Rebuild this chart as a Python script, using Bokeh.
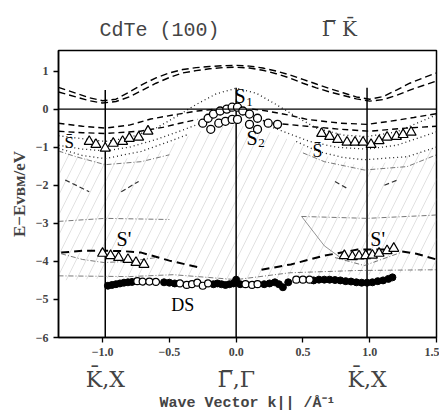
from bokeh.plotting import figure
from bokeh.models import Range1d, FixedTicker, Label, Span, LinearAxis
from bokeh.embed import file_html
from bokeh.resources import INLINE

# ---------------- data ----------------
xa = [-1.33, -1.2, -1.1, -1.0, -0.9, -0.8, -0.7, -0.6, -0.5, -0.4, -0.3, -0.2, -0.1, 0.0,
      0.1, 0.2, 0.3, 0.4, 0.5, 0.6, 0.7, 0.8, 0.9, 1.0, 1.1, 1.2, 1.3, 1.4, 1.5]
ya = [0.57, 0.42, 0.30, 0.22, 0.26, 0.45, 0.65, 0.82, 0.95, 1.04, 1.09, 1.12, 1.14, 1.15,
      1.13, 1.08, 1.00, 0.90, 0.78, 0.66, 0.54, 0.43, 0.32, 0.26, 0.33, 0.50, 0.68, 0.82, 0.95]
yb = [0.45, 0.32, 0.22, 0.16, 0.20, 0.32, 0.50, 0.68, 0.83, 0.95, 1.01, 1.06, 1.09, 1.10,
      1.08, 1.02, 0.93, 0.82, 0.68, 0.56, 0.45, 0.36, 0.27, 0.21, 0.25, 0.36, 0.50, 0.62, 0.74]

xc_l = [-1.33, -1.15, -0.98, -0.8, -0.64, -0.45, -0.29, -0.15]
yc_l = [-0.37, -0.45, -0.50, -0.42, -0.26, -0.14, -0.05, 0.0]
xc_r = [0.12, 0.23, 0.4, 0.53, 0.78, 0.98, 1.15, 1.33, 1.5]
yc_r = [0.0, -0.05, -0.16, -0.27, -0.37, -0.40, -0.32, -0.22, -0.12]
xd_l = [-1.33, -1.15, -0.98, -0.72, -0.55, -0.42, -0.29]
yd_l = [-0.58, -0.62, -0.64, -0.58, -0.48, -0.37, -0.27]
xd_r = [0.2, 0.28, 0.53, 0.78, 1.0, 1.27, 1.5]
yd_r = [-0.30, -0.37, -0.45, -0.53, -0.58, -0.50, -0.45]

xe = [-1.33, -1.1, -0.98, -0.8, -0.6, -0.45, -0.3, -0.15, 0.0, 0.15, 0.3, 0.45, 0.6, 0.8, 0.98, 1.2, 1.5]
ye = [-0.70, -0.80, -0.85, -0.75, -0.50, -0.20, 0.12, 0.40, 0.55, 0.42, 0.12, -0.20, -0.50, -0.68, -0.72, -0.60, -0.15]
xf_l = [-1.33, -1.15, -0.98, -0.8, -0.6, -0.4, -0.25]
yf_l = [-0.95, -1.05, -1.10, -1.00, -0.80, -0.55, -0.35]
xf_r = [0.25, 0.4, 0.55, 0.75, 0.98, 1.2, 1.5]
yf_r = [-0.45, -0.65, -0.85, -1.00, -1.05, -0.95, -0.60]
xg_l = [-1.33, -1.15, -0.98, -0.71, -0.5, -0.35]
yg_l = [-1.03, -1.22, -1.30, -1.11, -0.85, -0.65]
xg_r = [0.45, 0.61, 0.8, 0.96, 1.28, 1.5]
yg_r = [-0.85, -1.11, -1.27, -1.33, -1.25, -1.00]

xh_l = [-1.33, -1.2, -0.98, -0.71, -0.5]
yh_l = [-1.10, -1.25, -1.46, -1.38, -1.20]
xh_r = [0.5, 0.66, 0.96, 1.28, 1.5]
yh_r = [-1.15, -1.38, -1.60, -1.51, -1.20]
xi_l = [-1.33, -0.98, -0.5]
yi_l = [-2.95, -2.87, -2.90]
xi_r = [0.49, 0.98, 1.46, 1.5]
yi_r = [-2.82, -2.87, -2.79, -2.78]
xn = [0.49, 0.66, 0.78]
yn = [-2.82, -3.59, -3.90]
xk_l = [-1.31, -1.15, -0.99, -0.8, -0.6]
yk_l = [-3.80, -3.95, -4.03, -4.00, -3.90]
xk_r = [0.74, 0.96, 1.23]
yk_r = [-3.90, -4.11, -3.77]
xl = [-1.33, -0.8, -0.47, 0.0, 0.4, 0.9, 1.5]
yl = [-4.38, -4.40, -4.35, -4.48, -4.30, -4.24, -4.22]

seg_xs = [[-1.28, -1.10], [-0.86, -0.73], [0.74, 0.84], [1.11, 1.21]]
seg_ys = [[-1.86, -2.17], [-2.17, -1.90], [-1.90, -2.10], [-2.00, -1.86]]

xj_l = [-1.31, -1.15, -0.99, -0.85, -0.71, -0.5, -0.28]
yj_l = [-3.77, -3.72, -3.72, -3.73, -3.77, -3.98, -4.16]
xj_r = [0.19, 0.41, 0.66, 0.91, 1.16, 1.35, 1.5]
yj_r = [-4.22, -4.08, -3.85, -3.69, -3.69, -3.80, -3.95]

hatch_x = [-1.33, -0.98, -0.6, -0.3, 0.0, 0.3, 0.6, 0.98, 1.5, 1.5, 1.0, 0.5, 0.0, -0.5, -0.98, -1.33]
hatch_y = [-1.10, -1.40, -1.15, -0.60, -0.40, -0.65, -1.15, -1.55, -1.00, -4.25, -4.35, -4.40, -4.50, -4.40, -4.45, -4.50]

tri_l_x = [-1.10, -1.05, -0.98, -0.92, -0.85, -0.80, -0.73, -0.66]
tri_l_y = [-0.85, -0.93, -1.03, -0.90, -0.85, -0.77, -0.74, -0.58]
tri_r_x = [0.64, 0.70, 0.76, 0.83, 0.89, 0.95, 1.01, 1.07, 1.13, 1.20, 1.25, 1.31]
tri_r_y = [-0.64, -0.72, -0.80, -0.87, -0.87, -0.87, -0.93, -0.83, -0.74, -0.72, -0.67, -0.61]
tri_sl_x = [-1.00, -0.94, -0.88, -0.81, -0.75, -0.69]
tri_sl_y = [-3.79, -3.85, -3.90, -3.95, -4.03, -4.08]
tri_sr_x = [0.81, 0.87, 0.92, 0.97, 1.02, 1.07, 1.13, 1.18]
tri_sr_y = [-3.85, -3.88, -3.86, -3.85, -3.84, -3.79, -3.72, -3.66]

s1_x = [-0.25, -0.21, -0.17, -0.12, -0.07, -0.03, 0.01, 0.05, 0.10, 0.16, 0.24, 0.31]
s1_y = [-0.37, -0.24, -0.13, -0.05, 0.00, 0.05, 0.05, -0.05, -0.13, -0.24, -0.37, -0.40]
s2_x = [-0.19, -0.13, -0.08, -0.03, 0.01, 0.10, 0.16]
s2_y = [-0.53, -0.37, -0.32, -0.27, -0.27, -0.40, -0.53]

ds_f_x = [-0.96, -0.93, -0.90, -0.87, -0.84, -0.81, -0.78, -0.54, -0.50, -0.46,
          -0.17, -0.14, -0.11, -0.08, -0.05, -0.02, 0.00, 0.03,
          0.21, 0.25, 0.29, 0.32, 0.35, 0.39,
          0.58, 0.62, 0.66, 0.70, 0.74, 0.78, 0.82, 0.86, 0.90, 0.94, 0.98, 1.02, 1.06, 1.10, 1.14, 1.17]
ds_f_y = [-4.64, -4.62, -4.60, -4.58, -4.56, -4.55, -4.54, -4.55, -4.56, -4.58,
          -4.60, -4.58, -4.60, -4.62, -4.60, -4.58, -4.48, -4.60,
          -4.60, -4.58, -4.55, -4.60, -4.68, -4.55,
          -4.50, -4.48, -4.48, -4.48, -4.49, -4.50, -4.52, -4.53, -4.55, -4.56, -4.56, -4.55, -4.52, -4.50, -4.46, -4.42]
ds_o_x = [-0.74, -0.70, -0.65, -0.60, -0.42, -0.37, -0.33, -0.29, -0.25, -0.21, 0.07, 0.12, 0.16, 0.45, 0.50, 0.55]
ds_o_y = [-4.52, -4.53, -4.53, -4.54, -4.58, -4.62, -4.60, -4.56, -4.64, -4.58, -4.60, -4.62, -4.60, -4.48, -4.48, -4.48]

sym_x = [-0.98, 0.0, 0.98]
sym_top = [0.50, 0.56, 0.56]
sym_labels = ["K\u0304,X", "\u0393\u0305,\u0393", "K\u0304,X"]

y_ticks = [-6, -5, -4, -3, -2, -1, 0, 1]
y_tick_labels = ["\u22126", "\u22125", "\u22124", "\u22123", "\u22122", "\u22121", "0", "1"]
x_ticks = [-1.0, -0.5, 0.0, 0.5, 1.0, 1.5]
x_tick_labels = ["\u22121.0", "\u22120.5", "0.0", "0.5", "1.0", "1.5"]

title_x = [-0.574]
title_texts = ["CdTe (100)"]
dir_x = [0.773]
dir_texts = ["\u0393\u0305 K\u0304"]
x_title = "Wave Vector k|| /\u00c5\u207b\u00b9"
y_title = "E\u2212E\u1d20\u0299\u1d0d/eV"

# ---------------- figure ----------------
p = figure(frame_width=378, frame_height=287,
           min_border_left=58, min_border_right=3, min_border_top=50, min_border_bottom=74,
           x_range=Range1d(-1.33, 1.5), y_range=Range1d(-6, 1.54),
           output_backend="svg", toolbar_location=None, tools="")
p.grid.visible = False
p.outline_line_color = "black"
p.outline_line_width = 1.5
p.background_fill_color = "white"
p.border_fill_color = "white"

SERIF = "Liberation Serif"
for ax in (p.xaxis[0], p.yaxis[0]):
    ax.axis_line_width = 1.5
    ax.major_tick_line_width = 1.3
    ax.major_tick_out = 5
    ax.major_tick_in = 0
    ax.minor_tick_line_color = None
    ax.major_label_text_font = SERIF
    ax.major_label_text_font_style = "bold"
    ax.major_label_text_font_size = "12px"
    ax.major_label_standoff = 5
p.yaxis.ticker = FixedTicker(ticks=y_ticks)
p.yaxis.major_label_overrides = dict(zip(y_ticks, y_tick_labels))
p.yaxis.axis_label = y_title
p.yaxis.axis_label_text_font = SERIF
p.yaxis.axis_label_text_font_style = "bold"
p.yaxis.axis_label_text_font_size = "17px"
p.yaxis.axis_label_standoff = 4
p.xaxis.ticker = FixedTicker(ticks=x_ticks)
p.xaxis.major_label_overrides = dict(zip(x_ticks, x_tick_labels))

# symmetry-point axis below and its title
sym_ax = LinearAxis(ticker=FixedTicker(ticks=sym_x),
                    major_label_overrides=dict(zip(sym_x, sym_labels)),
                    axis_line_color=None, major_tick_line_color=None, minor_tick_line_color=None,
                    major_label_text_font="DejaVu Serif", major_label_text_font_size="22px",
                    major_label_standoff=2,
                    axis_label=x_title, axis_label_text_font="Liberation Mono",
                    axis_label_text_font_style="bold", axis_label_text_font_size="15px",
                    axis_label_standoff=0)
p.add_layout(sym_ax, "below")

# heading axes above
top_ax = LinearAxis(ticker=FixedTicker(ticks=title_x),
                    major_label_overrides=dict(zip(title_x, title_texts)),
                    axis_line_color=None, major_tick_line_color=None, minor_tick_line_color=None,
                    major_tick_out=0, major_tick_in=0,
                    major_label_text_font="Liberation Mono", major_label_text_font_size="20px",
                    major_label_standoff=9)
p.add_layout(top_ax, "above")
dir_ax = LinearAxis(ticker=FixedTicker(ticks=dir_x),
                    major_label_overrides=dict(zip(dir_x, dir_texts)),
                    axis_line_color=None, major_tick_line_color=None, minor_tick_line_color=None,
                    major_tick_out=0, major_tick_in=0,
                    major_label_text_font="DejaVu Serif", major_label_text_font_size="20px",
                    major_label_standoff=-25)
p.add_layout(dir_ax, "above")

# hatched region
p.patch(hatch_x, hatch_y, fill_alpha=0, line_alpha=0, hatch_pattern="/",
        hatch_color="#b4b4b4", hatch_alpha=0.8, hatch_scale=20, hatch_weight=0.5)

p.add_layout(Span(location=0, dimension="width", line_color="black", line_width=1.3))
p.segment(x0=sym_x, y0=[-6] * 3, x1=sym_x, y1=sym_top, line_color="black", line_width=1.5)

p.line(xa, ya, line_dash="7 4", line_width=1.4, line_color="black")
p.line(xa, yb, line_dash="7 4", line_width=1.4, line_color="black")
for xx, yy in ((xc_l, yc_l), (xc_r, yc_r), (xd_l, yd_l), (xd_r, yd_r)):
    p.line(xx, yy, line_dash="6 4", line_width=1.4, line_color="black")
for xx, yy in ((xe, ye), (xf_l, yf_l), (xf_r, yf_r), (xg_l, yg_l), (xg_r, yg_r)):
    p.line(xx, yy, line_dash="1 3", line_width=1.3, line_color="#222222")
for xx, yy in ((xh_l, yh_l), (xh_r, yh_r), (xi_l, yi_l), (xi_r, yi_r),
               (xk_l, yk_l), (xk_r, yk_r), (xl, yl)):
    p.line(xx, yy, line_dash="5 2 1 2", line_width=0.8, line_color="#555555")
p.line(xn, yn, line_width=0.7, line_color="#666666")
p.multi_line(seg_xs, seg_ys, line_dash="5 3", line_width=1.2, line_color="#333333")
p.line(xj_l, yj_l, line_dash="8 5", line_width=2.0, line_color="black")
p.line(xj_r, yj_r, line_dash="8 5", line_width=2.0, line_color="black")

for xx, yy in ((tri_l_x, tri_l_y), (tri_r_x, tri_r_y), (tri_sl_x, tri_sl_y), (tri_sr_x, tri_sr_y)):
    p.scatter(xx, yy, marker="triangle", size=10, fill_color="white", line_color="black", line_width=1.2)
p.scatter(s1_x, s1_y, marker="circle", size=8, fill_color="white", line_color="black", line_width=1.3)
p.scatter(s2_x, s2_y, marker="circle", size=8, fill_color="white", line_color="black", line_width=1.3)
p.scatter(ds_f_x, ds_f_y, marker="circle", size=7, fill_color="black", line_color="black", line_width=1)
p.scatter(ds_o_x, ds_o_y, marker="circle", size=7, fill_color="white", line_color="black", line_width=1.2)


def lab(x, y, t, size):
    p.add_layout(Label(x=x, y=y, text=t, text_font=SERIF, text_font_size=size,
                       text_align="center", text_baseline="middle", text_color="black"))


lab(-1.25, -0.87, "S\u0304", "17px")
lab(0.61, -1.11, "S\u0304", "18px")
lab(0.03, 0.34, "S", "20px")
lab(0.10, 0.20, "1", "13px")
lab(0.12, -0.77, "S", "20px")
lab(0.19, -0.90, "2", "13px")
lab(-0.84, -3.42, "S'", "20px")
lab(1.06, -3.42, "S'", "20px")
lab(-0.40, -5.15, "DS", "18px")

open("out.html", "w").write(file_html(p, INLINE))
